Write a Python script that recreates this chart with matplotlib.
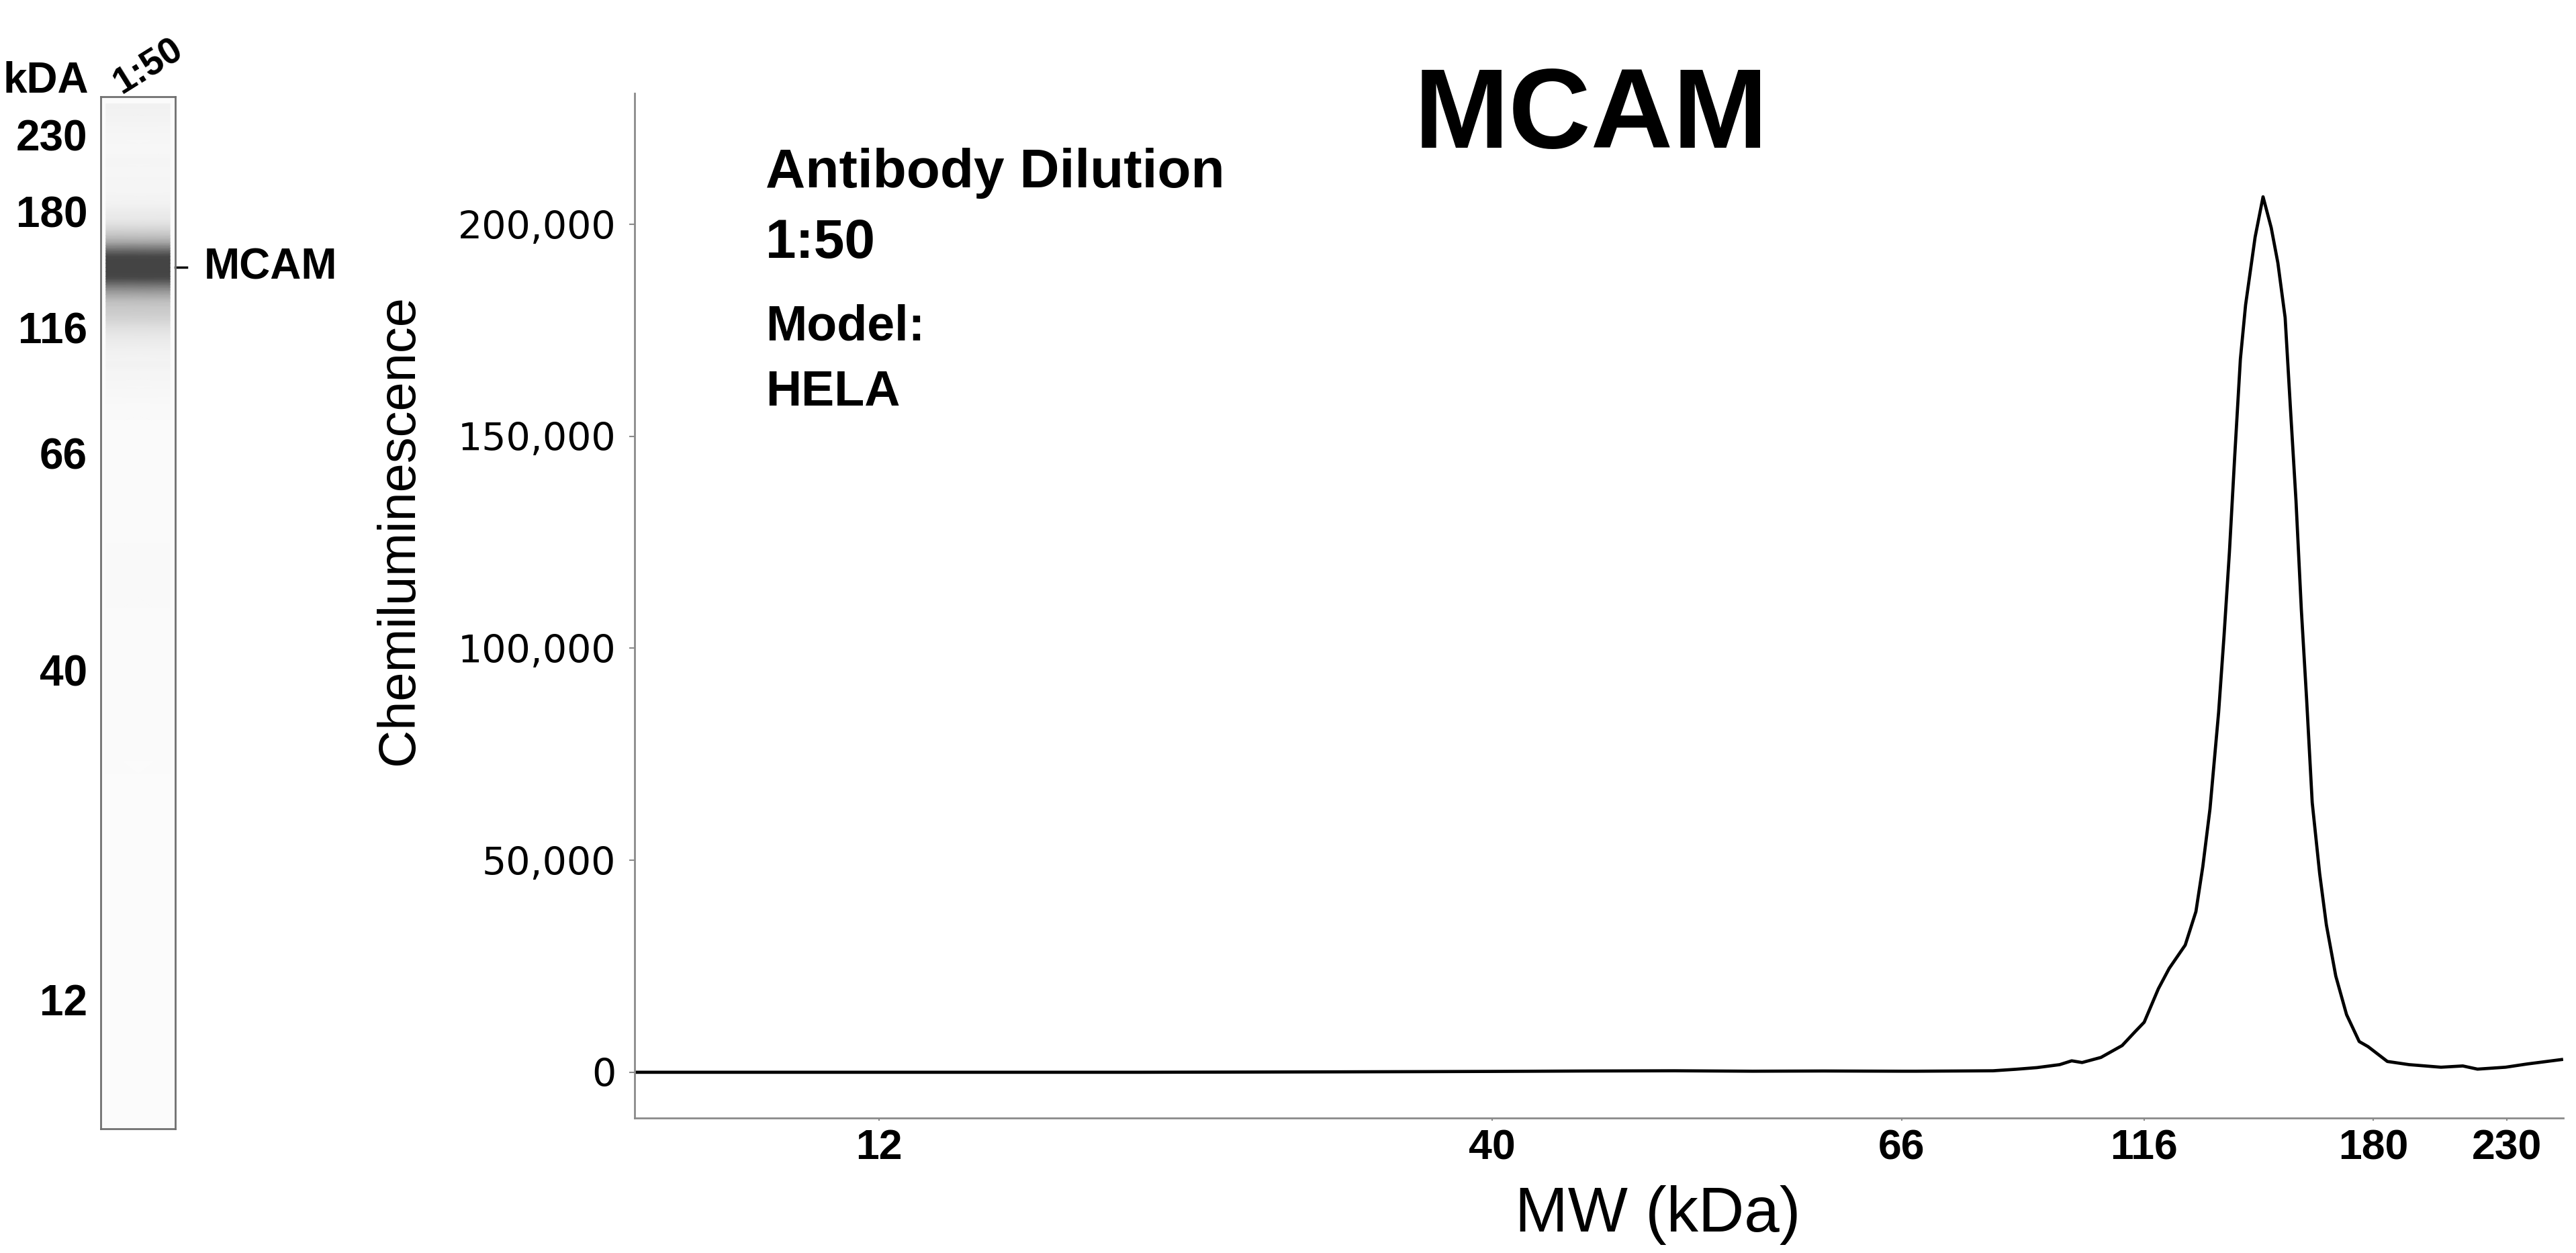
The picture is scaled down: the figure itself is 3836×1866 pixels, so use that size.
import numpy as np
import matplotlib
matplotlib.use('Agg')
import matplotlib.pyplot as plt
from matplotlib.colors import LinearSegmentedColormap, PowerNorm
from matplotlib.transforms import blended_transform_factory

# ladder marks (kDa) shown on both the lane and the MW axis
ladder_kda = [12, 40, 66, 116, 180, 230]

# electropherogram
mw_kda = [7.4, 9, 12, 15, 20, 25, 30, 35, 40, 45,
          50, 55, 60, 66, 68.2, 75, 81.6, 86, 90.4, 95.3,
          98.0, 100.4, 104.9, 110.2, 113.6, 116, 119.2, 121.7, 125.5, 128.1,
          129.8, 131.6, 133.8, 135.2, 136.6, 138.0, 139.5, 140.9, 143.5, 145.7,
          148.0, 149.9, 152.0, 153.6, 155.2, 156.8, 158.4, 160.1, 162.4, 164.5,
          167.5, 171.0, 175.2, 178.2, 184.7, 192.2, 203.8, 212.1, 217.9, 229.4,
          238.6, 254.2]
signal = [0, 0, 0, 0, 0, 50, 100, 150, 200, 300,
          350, 250, 300, 250, 250, 300, 350, 700, 1100, 1800,
          2700, 2300, 3500, 6300, 9600, 11800, 19700, 24500, 30000, 37900,
          48500, 62100, 84900, 103000, 122700, 145400, 168200, 181000, 197000, 206500,
          199200, 190900, 178000, 156000, 134800, 109100, 87900, 63650, 46900, 34800,
          22700, 13600, 7250, 6050, 2550, 1800, 1190, 1490, 740, 1190,
          1950, 3000]

y_ticks = [0, 50000, 100000, 150000, 200000]
target = 'MCAM'
dilution = '1:50'
model = 'HELA'

# capillary MW calibration (migration is not log-linear in MW)
cal_kda = [1, 7.43, 12, 40, 66, 116, 180, 230, 255, 1000]
cal_pos = [-0.53, 0.0, 0.1267, 0.4446, 0.6570, 0.7827, 0.9015, 0.9708, 1.0, 1.386]
lane_kda = [1, 7.43, 12, 40, 66, 116, 180, 230, 260, 1000]
lane_pos = [-0.53, 0.0, 0.1256, 0.4444, 0.6545, 0.7762, 0.8887, 0.9629, 1.0, 1.41]


def make_scale(kda, pos):
    lk = np.log(kda)

    def fwd(v):
        v = np.clip(np.asarray(v, dtype=float), 1e-3, None)
        return np.interp(np.log(v), lk, pos)

    def inv(p):
        return np.exp(np.interp(np.asarray(p, dtype=float), pos, lk))
    return fwd, inv


fig = plt.figure(figsize=(38.37, 18.66), dpi=100)

# ---- electropherogram ----
ax = fig.add_axes([0.2463, 0.1077, 0.7485, 0.8178])
ax.set_xscale('function', functions=make_scale(cal_kda, cal_pos))
ax.plot(mw_kda, signal, color='black', lw=3.4, solid_joinstyle='round')
ax.set_xlim(7.43, 255)
ax.set_ylim(-10800, 230900)
ax.set_xticks(ladder_kda)
ax.set_xticklabels([str(v) for v in ladder_kda], fontsize=45, fontweight='bold',
                   family='Liberation Sans')
ax.xaxis.set_minor_locator(matplotlib.ticker.NullLocator())
ax.set_yticks(y_ticks)
ax.set_yticklabels([f'{v:,}' for v in y_ticks], fontsize=41, family='DejaVu Sans')
for s in ['top', 'right']:
    ax.spines[s].set_visible(False)
for s in ['left', 'bottom']:
    ax.spines[s].set_color('#8a8a8a')
    ax.spines[s].set_linewidth(2)
ax.tick_params(axis='y', length=6, width=1.5, color='#8a8a8a', pad=14)
ax.tick_params(axis='x', length=3, width=1.5, color='#8a8a8a', pad=8)

fig.text(0.155, 0.577, 'Chemiluminescence', rotation=90, ha='center', va='center',
         fontsize=56, family='Liberation Sans')
fig.text(0.6435, 0.017, 'MW (kDa)', ha='center', va='baseline',
         fontsize=68, family='Liberation Sans')
fig.text(0.6174, 0.882, target, ha='center', va='baseline',
         fontsize=122, fontweight='bold', family='Liberation Sans')

info = [('Antibody Dilution', 0.8505, 59), (dilution, 0.7942, 59),
        ('Model:', 0.7283, 53), (model, 0.6763, 53)]
for txt, yy, fs in info:
    fig.text(0.2971, yy, txt, ha='left', va='baseline', fontsize=fs,
             fontweight='bold', family='Liberation Sans')

# ---- virtual blot lane ----
lane = fig.add_axes([0.0391, 0.0991, 0.0289, 0.8237])
lane.set_facecolor('#fbfbfb')
lane.set_yscale('function', functions=make_scale(lane_kda, lane_pos))
gel = LinearSegmentedColormap.from_list('gel', ['#fbfbfb', '#444444'])
X, Y = np.meshgrid([0.07, 0.93], mw_kda)
C = np.column_stack([signal, signal])
lane.pcolormesh(X, Y, C, shading='gouraud', cmap=gel,
                norm=PowerNorm(0.7, vmin=0, vmax=185000, clip=True))
lane.set_xlim(0, 1)
lane.set_ylim(7.43, 260)
lane.set_xticks([])
lane.set_yticks([])
lane.yaxis.set_minor_locator(matplotlib.ticker.NullLocator())
for s in lane.spines.values():
    s.set_color('#707070')
    s.set_linewidth(2)

tr = blended_transform_factory(lane.transAxes, lane.transData)
for v in ladder_kda:
    lane.text(-0.18, v, str(v), transform=tr, ha='right', va='center_baseline',
              fontsize=46, fontweight='bold', family='Liberation Sans')
lane.text(-0.16, 1.0195, 'kDA', transform=lane.transAxes, ha='right',
          va='center_baseline', fontsize=46, fontweight='bold', family='Liberation Sans')

peak_kda = mw_kda[int(np.argmax(signal))]
lane.plot([1.0, 1.15], [peak_kda, peak_kda], transform=tr, clip_on=False,
          color='black', lw=2.5)
lane.text(1.39, peak_kda, target, transform=tr, ha='left', va='center',
          fontsize=46, fontweight='bold', family='Liberation Sans')
fig.text(0.0575, 0.947, dilution, rotation=32, ha='center', va='center',
         fontsize=40, fontweight='bold', family='Liberation Sans')

fig.savefig('out.png', dpi=100)
